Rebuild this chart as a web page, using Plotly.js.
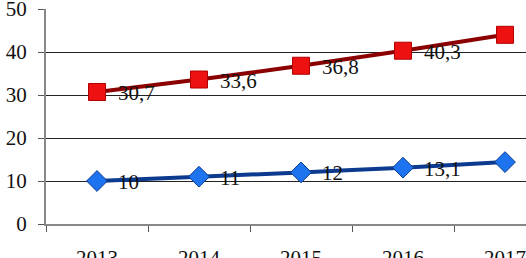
<!DOCTYPE html>
<html>
<head>
<meta charset="utf-8">
<script src="https://cdn.plot.ly/plotly-3.0.1.min.js"></script>
<style>
html,body{margin:0;padding:0;overflow:hidden;background:#fff;width:526px;height:258px;}
#chart{width:580px;height:258px;}
</style>
</head>
<body>
<div id="chart"></div>
<script>
var years = ['2013', '2014', '2015', '2016', '2017'];
var redValues = [30.7, 33.6, 36.8, 40.3, 44.0];
var blueValues = [10, 11, 12, 13.1, 14.4];
var yTicks = [0, 10, 20, 30, 40, 50];
// number of points whose value labels are visible in the picture (2017 labels lie outside the cropped view)
var labelCount = 4;

function fmt(v) { return String(v).replace('.', ','); }

var serif = 'Liberation Serif';

var traces = [
  {
    x: years, y: redValues, type: 'scatter', mode: 'lines+markers',
    line: {color: '#8B0000', width: 4, shape: 'spline', smoothing: 0.5},
    marker: {symbol: 'square', size: 17, color: '#EE1111', line: {color: '#B00000', width: 1}},
    cliponaxis: false, showlegend: false, hoverinfo: 'skip'
  },
  {
    x: years, y: blueValues, type: 'scatter', mode: 'lines+markers',
    line: {color: '#0B3A8E', width: 4, shape: 'spline', smoothing: 0.5},
    marker: {symbol: 'diamond', size: 16, color: '#1E74EE', line: {color: '#0B3A8E', width: 1}},
    cliponaxis: false, showlegend: false, hoverinfo: 'skip'
  }
];

var annotations = [];
[redValues, blueValues].forEach(function (vals) {
  for (var i = 0; i < labelCount; i++) {
    annotations.push({
      x: i, y: vals[i], xref: 'x', yref: 'y', text: fmt(vals[i]),
      showarrow: false, xanchor: 'left', yanchor: 'middle', xshift: 19, yshift: -1,
      font: {family: serif, size: 21, color: '#111'}
    });
  }
});

var layout = {
  width: 580, height: 258,
  margin: {l: 46, r: 24, t: 9, b: 34, pad: 0},
  paper_bgcolor: '#fff', plot_bgcolor: '#fff',
  font: {family: serif, size: 21, color: '#111'},
  annotations: annotations,
  xaxis: {
    type: 'category', range: [-0.5, 4.5],
    showgrid: false, zeroline: false,
    showline: true, linecolor: '#888', linewidth: 2,
    ticks: 'outside', tickson: 'boundaries', ticklen: 6, tickcolor: '#555', tickwidth: 1,
    ticklabelstandoff: 14, ticklabeloverflow: 'allow',
    tickfont: {family: serif, size: 21, color: '#111'}
  },
  yaxis: {
    range: [0, 50], tickvals: yTicks, ticktext: yTicks.map(String),
    showgrid: true, gridcolor: '#222', gridwidth: 1,
    zeroline: false, showline: true, linecolor: '#888', linewidth: 2,
    ticks: 'outside', ticklen: 6, tickcolor: '#555', tickwidth: 1,
    ticklabelstandoff: 7, ticklabeloverflow: 'allow',
    tickfont: {family: serif, size: 21, color: '#111'}
  }
};

Plotly.newPlot('chart', traces, layout, {staticPlot: true, displayModeBar: false});
</script>
</body>
</html>
